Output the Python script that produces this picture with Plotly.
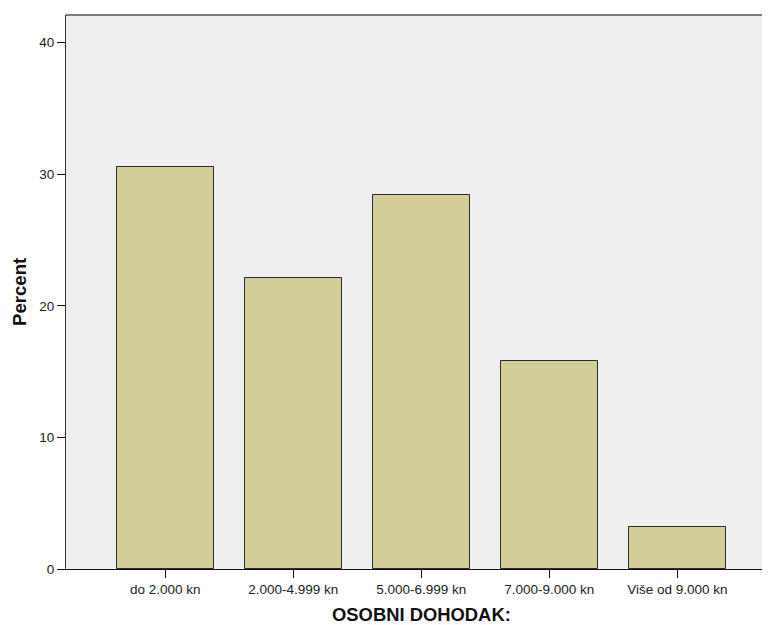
import plotly.graph_objects as go

categories = ["do 2.000 kn", "2.000-4.999 kn", "5.000-6.999 kn", "7.000-9.000 kn", "Više od 9.000 kn"]
percent = [30.56, 22.10, 28.43, 15.77, 3.19]
y_ticks = [0, 10, 20, 30, 40]
x_title = "OSOBNI DOHODAK:"
y_title = "Percent"

FONT = "Liberation Sans, Arial, sans-serif"

fig = go.Figure(
    go.Bar(
        x=categories,
        y=percent,
        width=0.754,
        marker=dict(color="#D3CE97", line=dict(color="#2b2b2b", width=1)),
        hoverinfo="x+y",
    )
)

# the page body adds an 8px offset, so the figure is sized to fill the window
fig.update_layout(
    width=762,
    height=617,
    margin=dict(l=58, r=0, t=7, b=56),
    paper_bgcolor="white",
    plot_bgcolor="#EFEFEF",
    showlegend=False,
    font=dict(family=FONT, color="#222222", size=13),
    bargap=0,
)

fig.update_xaxes(
    type="category",
    range=[-0.776, 4.724],
    showgrid=False,
    zeroline=False,
    showline=True,
    linecolor="#111111",
    linewidth=1,
    ticks="outside",
    ticklen=8,
    tickwidth=1,
    tickcolor="#111111",
    tickfont=dict(size=13.5, family=FONT, color="#222222"),
)

fig.update_yaxes(
    range=[0, 42.1],
    tickvals=y_ticks,
    showgrid=False,
    zeroline=False,
    showline=True,
    linecolor="#333333",
    linewidth=1,
    ticks="outside",
    ticklen=8,
    tickwidth=1,
    tickcolor="#111111",
    tickfont=dict(size=13.5, family=FONT, color="#222222"),
)

# top frame line
fig.add_shape(type="line", xref="paper", yref="paper", x0=0, x1=1, y0=1, y1=1,
              line=dict(color="#7a7a7a", width=2))

fig.add_annotation(text="<b>" + x_title + "</b>", xref="x", yref="paper",
                   x=2, y=0, yshift=-45, xanchor="center", yanchor="middle",
                   borderpad=0,
                   showarrow=False, font=dict(size=18.4, family=FONT, color="#111111"))
fig.add_annotation(text="<b>" + y_title + "</b>", xref="paper", yref="paper",
                   x=0, xshift=-47, y=0.5, textangle=-90,
                   xanchor="center", yanchor="middle",
                   showarrow=False, font=dict(size=18.6, family=FONT, color="#111111"))

fig.write_html("out.html")
